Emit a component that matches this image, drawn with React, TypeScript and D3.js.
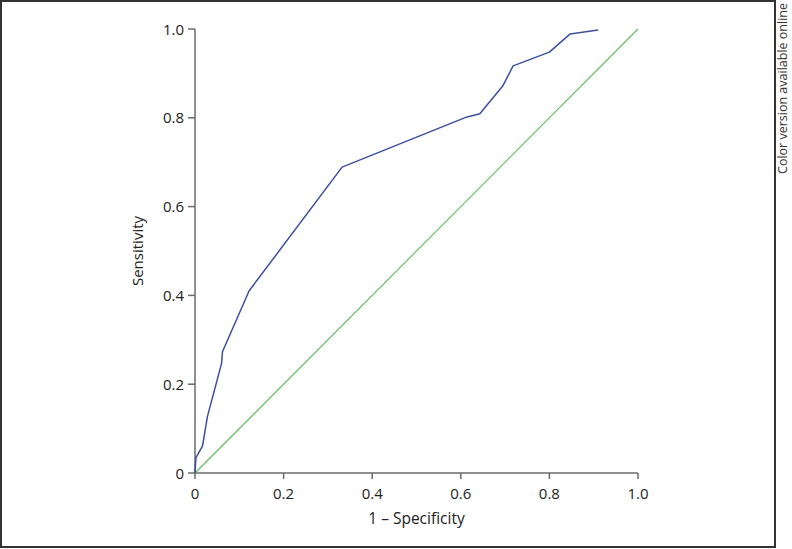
import React from "react";
import * as d3 from "d3";

const rocX = [0, 0.002, 0.017, 0.028, 0.06, 0.062, 0.122, 0.332, 0.614, 0.643, 0.695, 0.718, 0.8, 0.847, 0.91];
const rocY = [0, 0.034, 0.061, 0.127, 0.247, 0.273, 0.41, 0.689, 0.802, 0.809, 0.872, 0.917, 0.948, 0.989, 0.998];
const refX = [0, 1];
const refY = [0, 1];
const xTicks = [0, 0.2, 0.4, 0.6, 0.8, 1.0];
const yTicks = [0, 0.2, 0.4, 0.6, 0.8, 1.0];
const xTickLabels = ["0", "0.2", "0.4", "0.6", "0.8", "1.0"];
const yTickLabels = ["0", "0.2", "0.4", "0.6", "0.8", "1.0"];

const W = 792;
const H = 549;
const FONT = "'Open Sans', 'Segoe UI', sans-serif";

export default function App() {
  const x = d3.scaleLinear().domain([0, 1]).range([195, 638]);
  const y = d3.scaleLinear().domain([0, 1]).range([473, 29]);
  const line = d3
    .line<number>()
    .x((_, i) => x(rocX[i]))
    .y((d) => y(d));
  const rocPath = line(rocY) || "";
  const refLine = d3
    .line<number>()
    .x((_, i) => x(refX[i]))
    .y((d) => y(d));
  const refPath = refLine(refY) || "";
  const axisColor = "#6b6b6b";
  const textColor = "#222";

  return (
    <svg
      width={W}
      height={H}
      style={{ position: "absolute", left: 0, top: 0, background: "#fff" }}
    >
      <rect x={1} y={1} width={774} height={546} fill="none" stroke="#333" strokeWidth={2} />
      <text
        transform="translate(787,3) rotate(-90)"
        textAnchor="end"
        fontFamily={FONT}
        fontSize={12.5}
        fill="#333"
      >
        Color version available online
      </text>

      {/* axes */}
      <line x1={x(0)} x2={x(1)} y1={y(0)} y2={y(0)} stroke={axisColor} strokeWidth={1.5} />
      <line x1={x(0)} x2={x(0)} y1={y(0)} y2={y(1)} stroke={axisColor} strokeWidth={1.5} />
      {xTicks.map((t, i) => (
        <g key={"xt" + i}>
          <line x1={x(t)} x2={x(t)} y1={y(0)} y2={y(0) + 6} stroke={axisColor} strokeWidth={1.5} />
          <text
            x={x(t)}
            y={y(0) + 26}
            textAnchor="middle"
            fontFamily={FONT}
            fontSize={15}
            fill={textColor}
          >
            {xTickLabels[i]}
          </text>
        </g>
      ))}
      {yTicks.map((t, i) => (
        <g key={"yt" + i}>
          <line x1={x(0) - 7} x2={x(0)} y1={y(t)} y2={y(t)} stroke={axisColor} strokeWidth={1.5} />
          <text
            x={x(0) - 11}
            y={y(t) + 5.5}
            textAnchor="end"
            fontFamily={FONT}
            fontSize={15}
            fill={textColor}
          >
            {yTickLabels[i]}
          </text>
        </g>
      ))}
      <text
        x={(x(0) + x(1)) / 2}
        y={524}
        textAnchor="middle"
        fontFamily={FONT}
        fontSize={15.5}
        fill={textColor}
      >
        1 – Specificity
      </text>
      <text
        transform={`translate(143,${(y(0) + y(1)) / 2}) rotate(-90)`}
        textAnchor="middle"
        fontFamily={FONT}
        fontSize={15}
        fill={textColor}
      >
        Sensitivity
      </text>

      <path d={refPath} fill="none" stroke="#5dbf5d" strokeWidth={1.1} />
      <path d={rocPath} fill="none" stroke="#3b4f9e" strokeWidth={1.5} strokeLinejoin="round" />
    </svg>
  );
}
